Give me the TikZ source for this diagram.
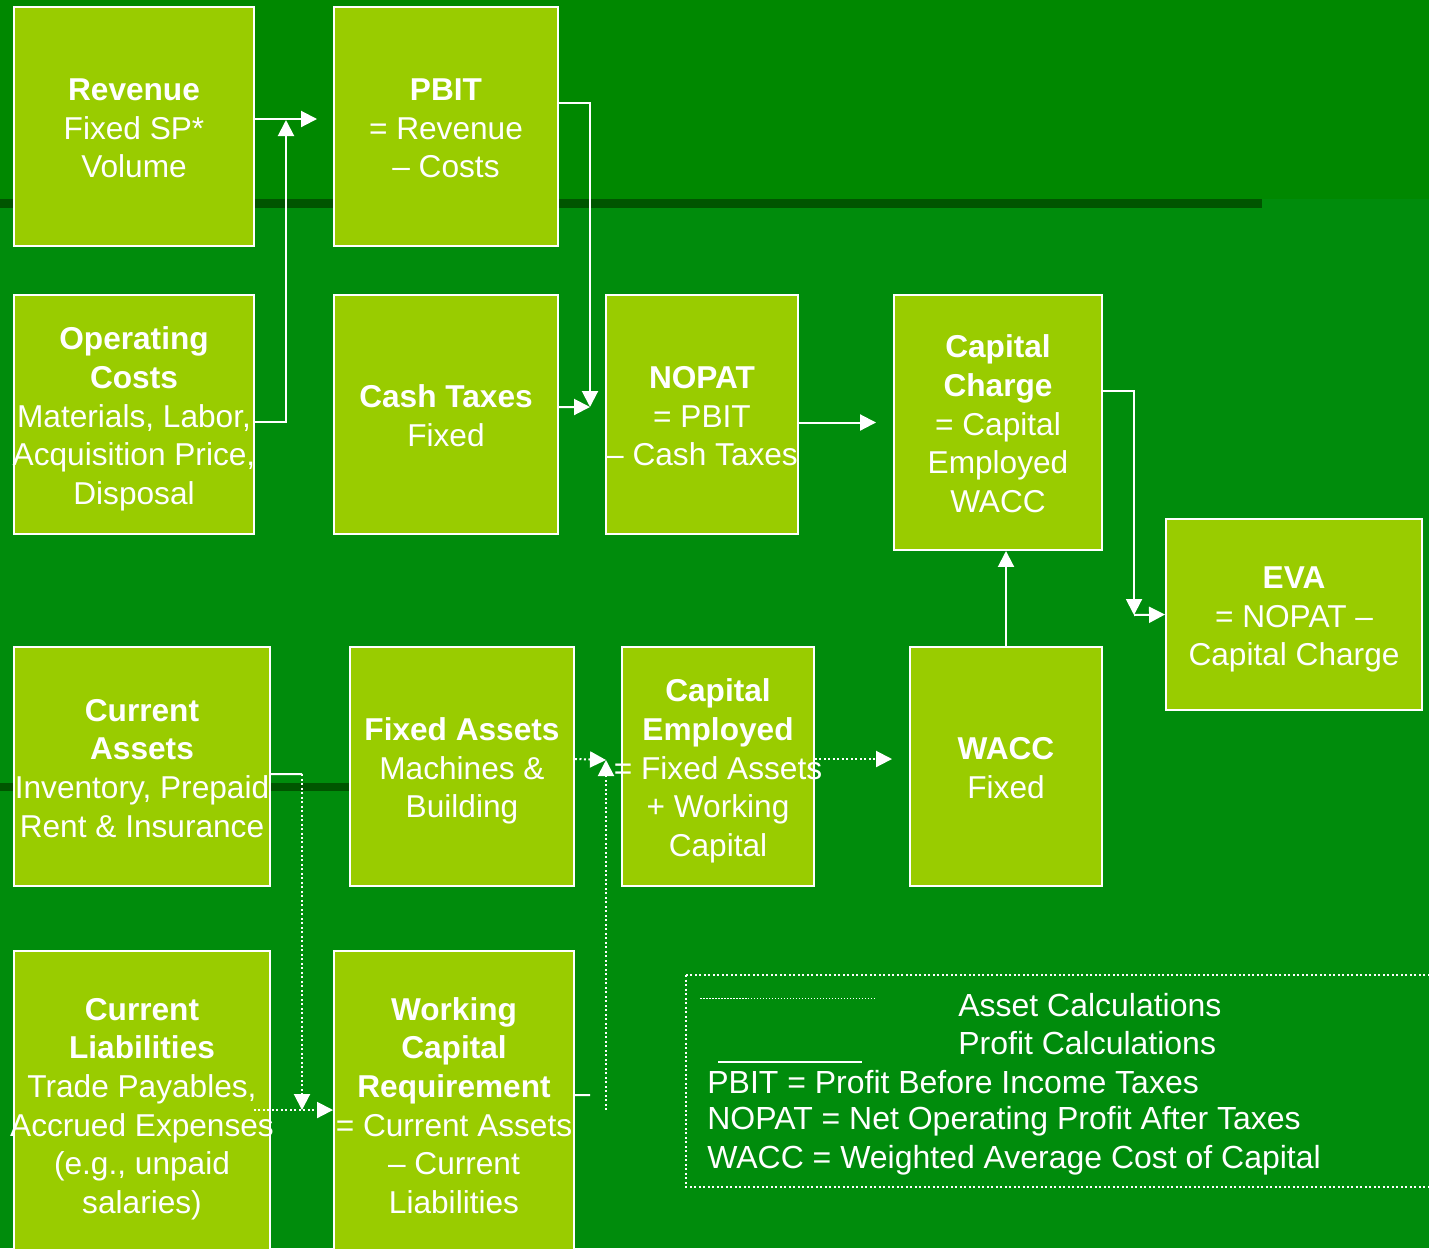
\documentclass[tikz,border=0pt]{standalone}
\usepackage{fontspec}
\setmainfont{Liberation Sans}
\usetikzlibrary{positioning, arrows.meta, calc}
\definecolor{bgtop}{RGB}{0,136,0}
\definecolor{bglow}{RGB}{0,140,12}
\definecolor{band}{RGB}{0,85,0}
\definecolor{boxfill}{RGB}{153,204,0}
\newcommand{\boxlines}[1]{\makebox[0pt]{\raisebox{-0.1cm}[\height][\depth]{\begin{tabular}{@{}c@{}}#1\end{tabular}}}}

\begin{document}
\begin{tikzpicture}[
	x=0.02cm, y=-0.02cm,
	calcbox/.style={draw=white, line width=0.04cm, fill=boxfill, text=white, inner sep=0pt, font=\fontsize{18}{22}\selectfont},
	link/.style={draw=white, line width=0.04cm, -{Triangle[length=0.32cm, width=0.32cm]}},
	dotlink/.style={link, dash pattern=on 0.04cm off 0.05cm},
	plain/.style={draw=white, line width=0.04cm},
	legtxt/.style={text=white, inner sep=0pt, font=\fontsize{18.2}{22}\selectfont}
	]
	\useasboundingbox (0,0) rectangle (1429,1248);
	\clip (0,0) rectangle (1429,1248);
	\fill[bglow] (0,0) rectangle (1429,1248);
	\fill[bgtop] (0,0) rectangle (1429,199);
	\fill[band] (0,199) rectangle (1262,208);
	\fill[band] (0,783) rectangle (400,791);

	\node[calcbox, minimum width=4.8cm, minimum height=4.78cm] (rev) at (134,126.5) {\boxlines{\textbf{Revenue}\\Fixed SP*\\Volume}};
	\node[calcbox, minimum width=4.48cm, minimum height=4.78cm] (pbit) at (446,126.5) {\boxlines{\textbf{PBIT}\\= Revenue\\– Costs}};
	\node[calcbox, minimum width=4.8cm, minimum height=4.78cm] (opc) at (134,414.5) {\boxlines{\textbf{Operating}\\\textbf{Costs}\\Materials, Labor,\\Acquisition Price,\\Disposal}};
	\node[calcbox, minimum width=4.48cm, minimum height=4.78cm] (ctax) at (446,414.5) {\boxlines{\textbf{Cash Taxes}\\Fixed}};
	\node[calcbox, minimum width=3.84cm, minimum height=4.78cm] (nopat) at (702,414.5) {\boxlines{\textbf{NOPAT}\\= PBIT\\– Cash Taxes}};
	\node[calcbox, minimum width=4.16cm, minimum height=5.1cm] (cch) at (998,422.5) {\boxlines{\textbf{Capital}\\\textbf{Charge}\\= Capital\\Employed\\WACC}};
	\node[calcbox, minimum width=5.12cm, minimum height=3.82cm] (eva) at (1294,614.5) {\boxlines{\textbf{EVA}\\= NOPAT –\\Capital Charge}};
	\node[calcbox, minimum width=5.12cm, minimum height=4.78cm] (cass) at (142,766.5) {\boxlines{\textbf{Current}\\\textbf{Assets}\\Inventory, Prepaid\\Rent \& Insurance}};
	\node[calcbox, minimum width=4.48cm, minimum height=4.78cm] (fass) at (462,766.5) {\boxlines{\textbf{Fixed Assets}\\Machines \&\\Building}};
	\node[calcbox, minimum width=3.84cm, minimum height=4.78cm] (cemp) at (718,766.5) {\boxlines{\textbf{Capital}\\\textbf{Employed}\\= Fixed Assets\\+ Working\\Capital}};
	\node[calcbox, minimum width=3.84cm, minimum height=4.78cm] (wacc) at (1006,766.5) {\boxlines{\textbf{WACC}\\Fixed}};
	\node[calcbox, minimum width=5.12cm, minimum height=6.12cm] (cliab) at (142,1104) {\boxlines{\textbf{Current}\\\textbf{Liabilities}\\Trade Payables,\\Accrued Expenses\\(e.g., unpaid\\salaries)}};
	\node[calcbox, minimum width=4.8cm, minimum height=6.12cm] (wcr) at (454,1104) {\boxlines{\textbf{Working}\\\textbf{Capital}\\\textbf{Requirement}\\= Current Assets\\– Current\\Liabilities}};

	\coordinate (j1) at (286,120);
	\coordinate (j2) at (590,407);
	\coordinate (j3) at (1134,615);
	\coordinate (k4) at (302,774);
	\coordinate (j4) at (302,1110);
	\coordinate (k5) at (590,1095);
	\coordinate (k6) at (606,1110);
	\coordinate (j5) at (606,760);

	\draw[link, shorten >=0.32cm] ([yshift=0.15cm]rev.east) -- ([yshift=0.15cm]pbit.west);
	\draw[link] ([yshift=-0.15cm]opc.east) -| (j1);
	\draw[link] ([yshift=0.47cm]pbit.east) -| (j2);
	\draw[link] ([yshift=0.15cm]ctax.east) -- (j2);
	\draw[link, shorten >=0.34cm] (nopat.east |- cch.west) -- (cch.west);
	\draw[link] ([yshift=0.63cm]cch.east) -| (j3);
	\draw[link] (j3) -- (eva.west);
	\draw[link] (wacc.north) -- (wacc.north |- cch.south);
	\draw[plain] ([yshift=-0.15cm]cass.east) -- (k4);
	\draw[dotlink] (k4) -- (j4);
	\draw[dotlink] ([xshift=-0.34cm, yshift=-0.12cm]cliab.east) -- ([yshift=-0.12cm]wcr.west);
	\draw[plain] ([yshift=0.18cm]wcr.east) -- (k5);
	\draw[dotlink] (k6) -- (j5);
	\draw[dotlink] ([yshift=0.15cm]fass.east) -- (j5);
	\draw[dotlink, shorten >=0.34cm] ([yshift=0.15cm]cemp.east) -- ([yshift=0.15cm]wacc.west);

	\draw[plain, dash pattern=on 0.04cm off 0.05cm] (686,975) rectangle (1460,1187);
	\draw[plain, line width=0.02cm, dash pattern=on 0.03cm off 0.03cm] (700,998) -- (874,998);
	\draw[plain] (718,1062) -- (862,1062);
	\node[legtxt, anchor=west] (asset) at (958,1005) {Asset Calculations};
	\node[legtxt, anchor=west] (profit) at (958,1043) {Profit Calculations};
	\node[legtxt, anchor=west] (abbr1) at (707,1082) {PBIT = Profit Before Income Taxes};
	\node[legtxt, anchor=west] (abbr2) at (707,1121) {NOPAT = Net Operating Profit After Taxes};
	\node[legtxt, anchor=west] (abbr3) at (707,1160) {WACC = Weighted Average Cost of Capital};
\end{tikzpicture}
\end{document}
